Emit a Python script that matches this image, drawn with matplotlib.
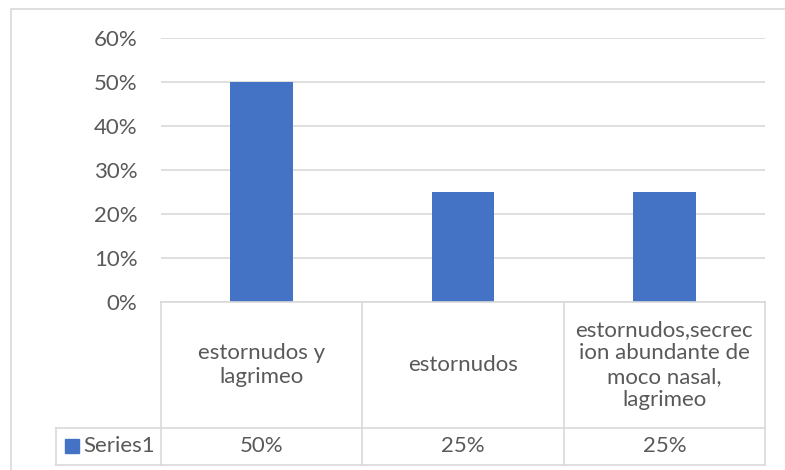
import matplotlib
matplotlib.use('Agg')
import matplotlib.pyplot as plt
from matplotlib.patches import Rectangle
from matplotlib.lines import Line2D
from matplotlib.ticker import PercentFormatter

# Chart data
categories = ["estornudos y\nlagrimeo",
              "estornudos",
              "estornudos,secrec\nion abundante de\nmoco nasal,\nlagrimeo"]
values = [0.50, 0.25, 0.25]
series_name = "Series1"
y_ticks = [0, 0.1, 0.2, 0.3, 0.4, 0.5, 0.6]

BAR_COLOR = '#4472C4'
GRID_COLOR = '#D9D9D9'
TEXT_COLOR = '#595959'
FONT = 'Lato'
FS = 16

W, H = 785, 470
fig = plt.figure(figsize=(W / 100, H / 100), dpi=100)

def fx(px):
    return px / W

def fy(py):
    return 1 - py / H

# plot area in pixel positions
left, right, top, bottom = 161, 765, 38, 302
ax = fig.add_axes([fx(left), fy(bottom), fx(right - left), (bottom - top) / H])

x = list(range(len(categories)))
ax.bar(x, values, width=0.31, color=BAR_COLOR, zorder=3)
ax.set_xlim(-0.5, len(categories) - 0.5)
ax.set_ylim(0, 0.6)
ax.set_yticks(y_ticks)
ax.yaxis.set_major_formatter(PercentFormatter(1.0, decimals=0))
ax.grid(axis='y', color=GRID_COLOR, linewidth=1.2, zorder=0)
ax.set_xticks([])
for s in ax.spines.values():
    s.set_visible(False)
ax.tick_params(axis='y', length=0, pad=17, labelsize=FS, labelcolor=TEXT_COLOR)
for lbl in ax.get_yticklabels():
    lbl.set_fontfamily(FONT)

# outer chart border (runs off the right and bottom edge)
fig.patches.append(Rectangle((fx(11), fy(480)), fx(800), (480 - 9) / H,
                             transform=fig.transFigure, fill=False,
                             edgecolor=GRID_COLOR, linewidth=1.2))

# data table under the plot
row1, row2 = 428, 465
legend_left = 56
col_w = (right - left) / len(categories)
cols = [left + i * col_w for i in range(len(categories) + 1)]

def hline(y, x0, x1):
    fig.add_artist(Line2D([fx(x0), fx(x1)], [fy(y), fy(y)], color=GRID_COLOR,
                          linewidth=1.2, transform=fig.transFigure))

def vline(xp, y0, y1):
    fig.add_artist(Line2D([fx(xp), fx(xp)], [fy(y0), fy(y1)], color=GRID_COLOR,
                          linewidth=1.2, transform=fig.transFigure))

hline(bottom, left, right)
hline(row1, legend_left, right)
hline(row2, legend_left, right)
for c in cols:
    vline(c, bottom, row2)
vline(legend_left, row1, row2)

for i, cat in enumerate(categories):
    cx = (cols[i] + cols[i + 1]) / 2
    fig.text(fx(cx), fy((bottom + row1) / 2), cat, ha='center', va='center',
             fontsize=FS, color=TEXT_COLOR, family=FONT, linespacing=1.2)
    fig.text(fx(cx), fy((row1 + row2) / 2), f"{values[i]:.0%}", ha='center',
             va='center', fontsize=FS, color=TEXT_COLOR, family=FONT)

# legend key in the table
fig.patches.append(Rectangle((fx(65), fy(453)), fx(14), 14 / H,
                             transform=fig.transFigure, color=BAR_COLOR))
fig.text(fx(83), fy((row1 + row2) / 2), series_name, ha='left', va='center',
         fontsize=FS, color=TEXT_COLOR, family=FONT)

fig.savefig('out.png', dpi=100)
